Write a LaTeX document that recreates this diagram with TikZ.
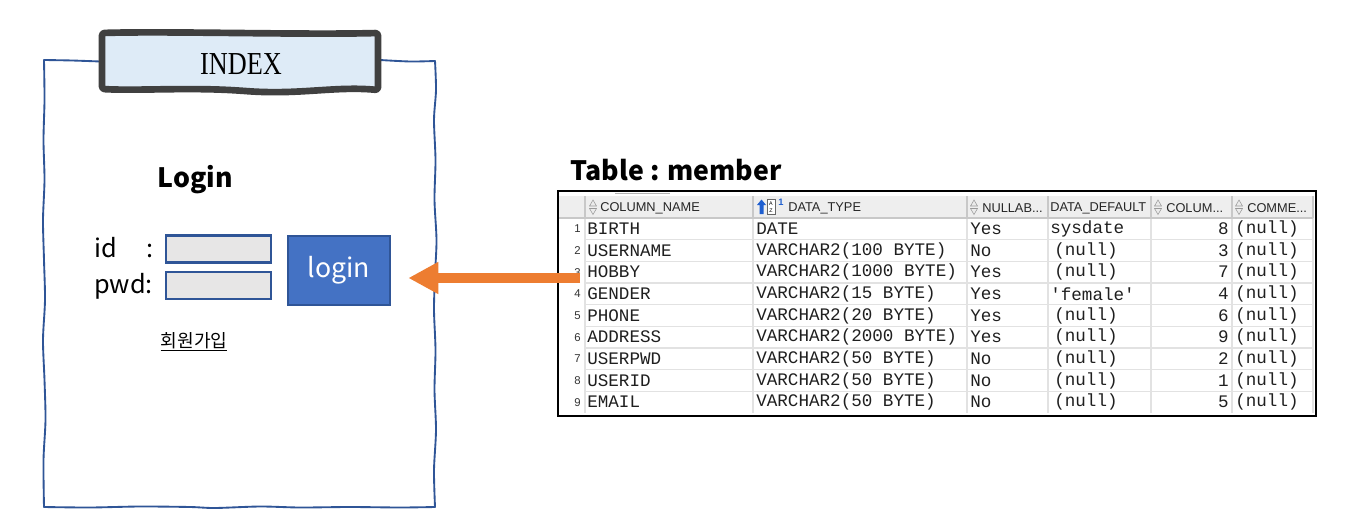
\documentclass[tikz,border=0pt]{standalone}
\usepackage{fontspec}
\setmainfont{Noto Sans CJK KR}
\newfontfamily\monof{Liberation Mono}
\newfontfamily\hdrf{Liberation Sans}
\newfontfamily\serf{Liberation Serif}
\usetikzlibrary{arrows.meta}
\definecolor{frameblue}{HTML}{2F5597}
\definecolor{btnblue}{HTML}{4472C4}
\definecolor{boxgray}{HTML}{E7E6E6}
\definecolor{bannerfill}{HTML}{DEEBF7}
\definecolor{bannerdraw}{HTML}{404040}
\definecolor{arrowor}{HTML}{ED7D31}
\definecolor{gridl}{HTML}{E2E2E2}
\definecolor{hdrbg}{HTML}{EEEEEE}
\definecolor{hdrline}{HTML}{C8C8C8}
\definecolor{iconblue}{HTML}{1F5FD0}
\tikzset{
  frameline/.style={frameblue, line width=1.4pt, line cap=round},
  inputbox/.style={draw=frameblue, line width=1.6pt, fill=boxgray, minimum width=78.75pt, minimum height=20.25pt, inner sep=0pt},
  btn/.style={draw=frameblue, line width=2pt, fill=btnblue, text=white, minimum width=76.5pt, minimum height=51.75pt, inner sep=0pt, font=\fontsize{20}{24}\selectfont},
  cell/.style={anchor=west, inner sep=0pt, font=\monof\fontsize{13.2}{15}\selectfont, text=black!88},
  hdr/.style={anchor=west, inner sep=0pt, font=\hdrf\fontsize{9.6}{11}\selectfont, text=black!85},
  rnum/.style={anchor=east, inner sep=0pt, font=\hdrf\fontsize{8.5}{10}\selectfont, text=black!80},
  sorticon/.style={draw=black!40, fill=black!8, line width=0.4pt},
}
\begin{document}
\begin{tikzpicture}[x=0.75pt,y=-0.75pt]
\useasboundingbox (0,0) rectangle (1345,524);
% hand drawn frame
\draw[frameline] plot[smooth] coordinates {(100,61.5) (72,60.5) (44,60)};
\draw[frameline] plot[smooth] coordinates {(44,60) (44.5,100) (43.5,140) (44.5,180) (43,220) (44,260) (45,300) (43,340) (44.5,380) (45.5,420) (43.5,460) (44,507)};
\draw[frameline] plot[smooth] coordinates {(44,507) (90,507.5) (140,506.5) (190,507) (215,508) (260,506.5) (300,507.5) (350,507) (400,507.5) (435,507)};
\draw[frameline] plot[smooth] coordinates {(435,507) (434,470) (436,430) (434.5,390) (435.5,350) (434,310) (435,275) (436.5,240) (434.5,200) (435.5,160) (434,120) (436,90) (435,61)};
\draw[frameline] plot[smooth] coordinates {(435,61) (410,61.5) (380,60)};
% banner
\draw[bannerdraw, fill=bannerfill, line width=5pt, line join=round, rounded corners=2pt]
  (102,33) .. controls (170,31) and (300,35) .. (378,33) -- (378,90)
  .. controls (335,86) and (300,95) .. (245,91)
  .. controls (190,87) and (140,91) .. (102,89) -- cycle;
\node[font=\serf\fontsize{24}{28}\selectfont, xscale=0.82] (index) at (241,64) {INDEX};
% login form
\node[font=\fontsize{20}{24}\selectfont\bfseries] (logintitle) at (195,180) {Login};
\node[anchor=west, inner sep=0pt, font=\fontsize{19}{22}\selectfont] (idlabel) at (94,248) {id\hspace{22.5pt}:};
\node[anchor=west, inner sep=0pt, font=\fontsize{19}{22}\selectfont] (pwdlabel) at (94,286) {pwd:};
\node[inputbox] (idbox) at (218.5,249) {};
\node[inputbox] (pwdbox) at (218.5,285.5) {};
\node[btn] (loginbtn) at (339,270.5) {\raisebox{-2.5pt}{login}};
\node[font=\fontsize{13.6}{16}\selectfont, inner sep=0pt] (join) at (194,342) {\underline{회원가입}};
% table title
\node[anchor=west, inner sep=0pt, font=\fontsize{20}{24}\selectfont\bfseries] (tabletitle) at (570,170) {Table : member};
% table
\fill[hdrbg] (558,196) rectangle (1313,218);
\foreach \yy in {239.67,261.33,283,304.67,326.33,348,369.67,391.33}
  \draw[gridl, line width=0.8pt] (585,\yy) -- (1313,\yy);
\foreach \xx in {585,753,967,1048,1151,1232,1313} {
  \draw[gridl, line width=0.8pt] (\xx,218) -- (\xx,413);
  \draw[hdrline, line width=0.8pt] (\xx,196) -- (\xx,218);
}
\draw[hdrline, line width=0.8pt] (558,218) -- (1313,218);
\draw[black!30, line width=0.6pt] (615,193.5) -- (670,193.5);
\node[draw=black, line width=1.1pt, minimum width=568.5pt, minimum height=168.75pt, inner sep=0pt] (tbl) at (937,303.5) {};
% header icons
\foreach \ix in {593,974,1158,1239} {
  \draw[sorticon] (\ix-3.5,206) -- (\ix+3.5,206) -- (\ix,200) -- cycle;
  \draw[sorticon] (\ix-3.5,208.5) -- (\ix+3.5,208.5) -- (\ix,214.5) -- cycle;
}
\fill[iconblue] (757,205) -- (761.5,199.5) -- (766,205) -- (763.5,205) -- (763.5,214) -- (759.5,214) -- (759.5,205) -- cycle;
\draw[black!60, fill=white, line width=0.5pt] (767,199.5) rectangle (775,214.5);
\node[inner sep=0pt, font=\hdrf\fontsize{4}{4}\selectfont] (az) at (771,207) {\shortstack{A\\Z}};
\node[inner sep=0pt, font=\hdrf\bfseries\fontsize{7}{8}\selectfont, text=iconblue] (one) at (781,202.5) {1};
% header labels
\node[hdr] (h1) at (600,208) {COLUMN\_NAME};
\node[hdr] (h2) at (788,208) {DATA\_TYPE};
\node[hdr] (h3) at (982,208) {NULLAB...};
\node[hdr] (h4) at (1050,208) {DATA\_DEFAULT};
\node[hdr] (h5) at (1166,208) {COLUM...};
\node[hdr] (h6) at (1247,208) {COMME...};
% rows
\foreach \nm/\ty/\nl/\df/\dx/\cid [count=\i] in {
  BIRTH/DATE/Yes/sysdate/1050/8,
  USERNAME/VARCHAR2(100 BYTE)/No/(null)/1054/3,
  HOBBY/VARCHAR2(1000 BYTE)/Yes/(null)/1054/7,
  GENDER/VARCHAR2(15 BYTE)/Yes/\symbol{39}female\symbol{39}/1050/4,
  PHONE/VARCHAR2(20 BYTE)/Yes/(null)/1054/6,
  ADDRESS/VARCHAR2(2000 BYTE)/Yes/(null)/1054/9,
  USERPWD/VARCHAR2(50 BYTE)/No/(null)/1054/2,
  USERID/VARCHAR2(50 BYTE)/No/(null)/1054/1,
  EMAIL/VARCHAR2(50 BYTE)/No/(null)/1054/5} {
  \pgfmathsetmacro{\yc}{218+(\i-0.5)*21.667}
  \node[rnum] (r\i) at (581,\yc) {\i};
  \node[cell] (n\i) at (587,\yc) {\nm};
  \node[cell] (t\i) at (756,\yc) {\ty};
  \node[cell] (u\i) at (970,\yc) {\nl};
  \node[cell] (d\i) at (\dx,\yc) {\df};
  \node[cell, anchor=east] (c\i) at (1229,\yc) {\cid};
  \node[cell] (m\i) at (1235,\yc) {(null)};
}
% arrow
\coordinate (atail) at (580,278);
\draw[arrowor, line width=7.5pt, -{Triangle[length=22.5pt, width=22.5pt]}, shorten >=12.75pt]
  (atail) -- (loginbtn.east |- atail);
\end{tikzpicture}
\end{document}
